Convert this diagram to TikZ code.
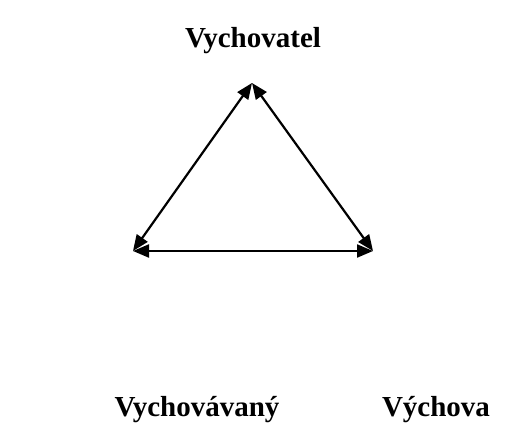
\documentclass[tikz,border=0pt]{standalone}
\usepackage{fontspec}
\setmainfont{Liberation Serif}
\usetikzlibrary{arrows.meta}

\begin{document}
\begin{tikzpicture}[x=1pt, y=-1pt, >={Triangle[length=16pt, width=13pt]}]
\tikzset{heading/.style={font=\fontsize{29}{34}\selectfont\bfseries, anchor=base, inner sep=0pt}}
\useasboundingbox (0,0) rectangle (515,435);
\node[heading] (vychovatel) at (253,48) {Vychovatel};
\node[heading] (vychovavany) at (197,417) {Vychovávaný};
\node[heading] (vychova) at (436,417) {Výchova};
\coordinate (top) at (252,83);
\coordinate (left) at (133,251);
\coordinate (right) at (373,251);
\draw[<->, line width=2.2pt] (top) -- (left);
\draw[<->, line width=2.2pt] (top) -- (right);
\draw[<->, line width=2.2pt] (left) -- (right);
\end{tikzpicture}
\end{document}
